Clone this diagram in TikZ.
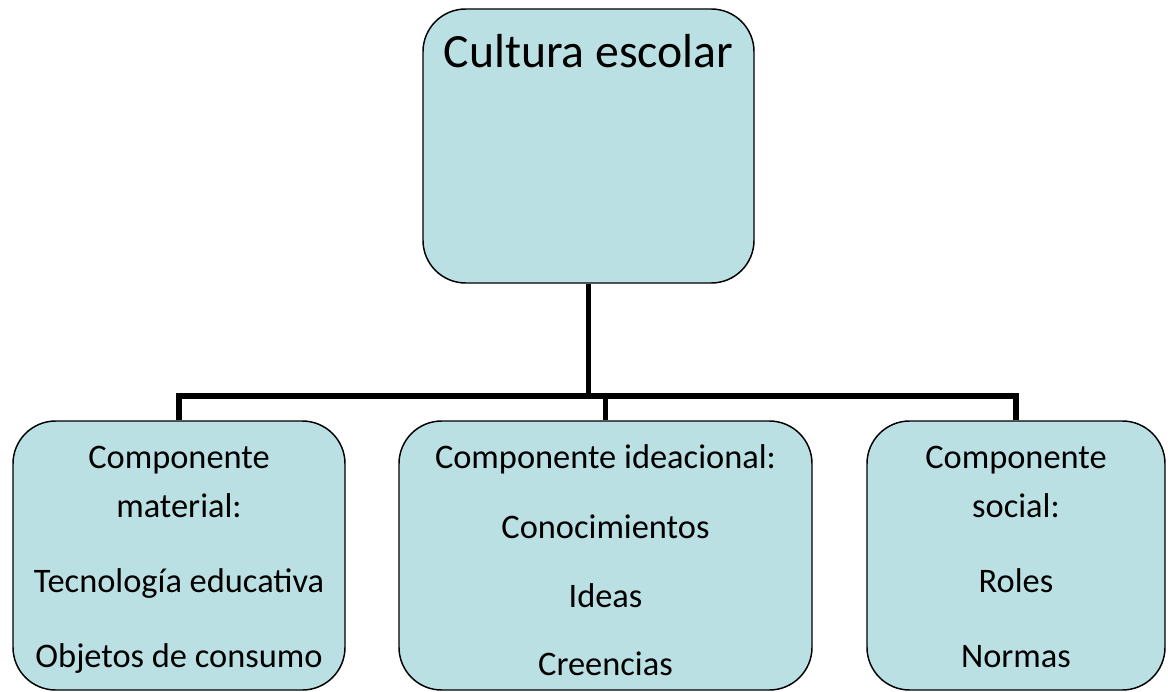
\documentclass[tikz,border=0pt]{standalone}
\usepackage{fontspec}
\setmainfont{Carlito}
\usetikzlibrary{positioning}
\usetikzlibrary{calc}

\definecolor{cajafondo}{RGB}{187,224,227}

\tikzset{
  caja/.style={draw=black, line width=1.1pt, fill=cajafondo, rounded corners=32pt, inner sep=0pt},
  conector/.style={draw=black, line width=4.2pt},
  titulo/.style={font=\fontsize{35.8}{43}\selectfont, anchor=base, inner sep=0pt},
  texto/.style={font=\fontsize{25.8}{31}\selectfont, anchor=base, inner sep=0pt}
}

\begin{document}
\begin{tikzpicture}[x=0.75pt, y=-0.75pt]
\useasboundingbox (0,0) rectangle (1168,692);

% top level
\node[caja, minimum width=248.25pt, minimum height=205.5pt] (cultura) at (588.5,146) {};
\node[titulo] (tcultura) at (588.5,68) {Cultura escolar};

% 2nd level
\node[caja, minimum width=249pt, minimum height=201.75pt] (material) at (179,555.5) {};
\node[texto] (m1) at (179,468) {Componente};
\node[texto] (m2) at (179,517) {material:};
\node[texto] (m3) at (179,592) {Tecnología educativa};
\node[texto] (m4) at (179,667) {Objetos de consumo};

\node[caja, minimum width=309.75pt, minimum height=201.75pt] (ideacional) at (605.5,555.5) {};
\node[texto] (i1) at (605.5,468) {Componente ideacional:};
\node[texto] (i2) at (605.5,538) {Conocimientos};
\node[texto] (i3) at (605.5,607) {Ideas};
\node[texto] (i4) at (605.5,675) {Creencias};

\node[caja, minimum width=223.5pt, minimum height=201.75pt] (social) at (1016,555.5) {};
\node[texto] (s1) at (1016,468) {Componente};
\node[texto] (s2) at (1016,517) {social:};
\node[texto] (s3) at (1016,592) {Roles};
\node[texto] (s4) at (1016,667) {Normas};

% connectors
\coordinate (cruce) at (588.5,396);
\draw[conector] (cultura.south) -- (cruce);
\draw[conector] (cruce) -| (material.north);
\draw[conector] (cruce) -| (ideacional.north);
\draw[conector] (cruce) -| (social.north);
\end{tikzpicture}
\end{document}
